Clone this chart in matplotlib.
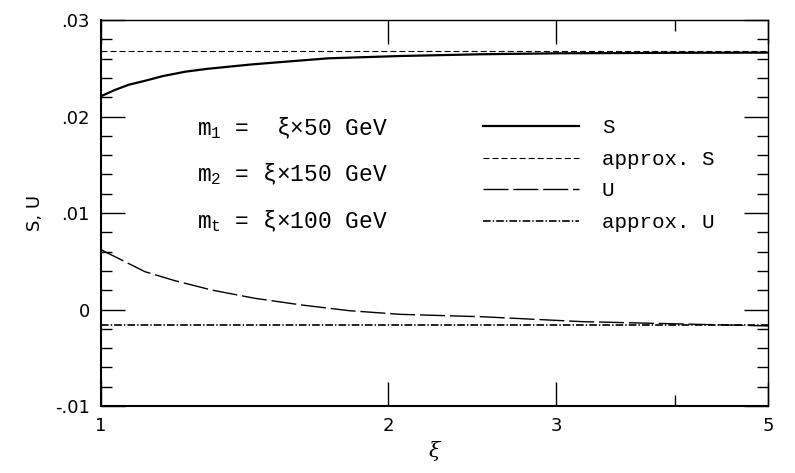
import numpy as np
import matplotlib
matplotlib.use("Agg")
import matplotlib.pyplot as plt
from matplotlib.ticker import FixedLocator, NullFormatter, MultipleLocator, FuncFormatter


# Werte
xi_S = [1.0, 1.034, 1.07, 1.112, 1.16, 1.225, 1.29, 1.36, 1.44, 1.534, 1.73, 2.06, 2.5, 3.0, 4.0, 5.0]
S = [0.0221, 0.02275, 0.0233, 0.0237, 0.02418, 0.02464, 0.02493, 0.02516, 0.0254, 0.02562, 0.02603,
     0.02627, 0.02645, 0.02655, 0.0266, 0.02662]

xi_U = [1.0, 1.051, 1.112, 1.195, 1.306, 1.45, 1.623, 1.82, 2.06, 2.51, 3.2, 4.07, 5.0]
U = [0.0062, 0.00513, 0.00392, 0.00299, 0.00202, 0.00116, 0.00047, -0.00012, -0.0005, -0.00075,
     -0.00126, -0.0015, -0.0017]

xi_approx = [1.0, 5.0]
S_approx = [0.0268, 0.0268]
U_approx = [-0.00165, -0.00165]

massen = [r"m$_\mathrm{1}$ =  ξ×50 GeV",
          r"m$_\mathrm{2}$ = ξ×150 GeV",
          r"m$_\mathrm{t}$ = ξ×100 GeV"]

plt.rcParams["lines.scale_dashes"] = False
plt.rcParams["mathtext.fontset"] = "custom"
plt.rcParams["mathtext.rm"] = "Liberation Mono"
plt.rcParams["mathtext.it"] = "Liberation Mono:italic"

fig = plt.figure(figsize=(7.95, 4.73), dpi=100)
ax = fig.add_axes([0.127, 0.1416, 0.839, 0.8161])

ax.plot(xi_S, S, color="black", linewidth=1.6, label="S")
ax.plot(xi_approx, S_approx, color="black", linewidth=0.8, dashes=(4.3, 2.2), label="approx. S")
ax.plot(xi_U, U, color="black", linewidth=1.0, dashes=(18, 3.5), label="U")
ax.plot(xi_approx, U_approx, color="black", linewidth=1.2, dashes=(5.5, 1.5, 1, 1.5), label="approx. U")

ax.set_xscale("log")
ax.set_xlim(1, 5)
ax.set_ylim(-0.01, 0.03)

ax.xaxis.set_major_locator(FixedLocator([1, 2, 3, 5]))
ax.xaxis.set_minor_locator(FixedLocator([4]))
ax.xaxis.set_major_formatter(FuncFormatter(lambda v, p: "%d" % v))
ax.xaxis.set_minor_formatter(NullFormatter())

ax.yaxis.set_major_locator(MultipleLocator(0.01))
ax.yaxis.set_minor_locator(MultipleLocator(0.002))


def ylabelfmt(v, p):
    if abs(v) < 1e-9:
        return "0"
    s = "%.2f" % v
    return s.replace("0.", ".")


ax.yaxis.set_major_formatter(FuncFormatter(ylabelfmt))

ax.tick_params(which="both", direction="in", top=True, right=True, color="black")
ax.tick_params(which="major", length=17, width=1.0, labelsize=13, pad=8)
ax.tick_params(which="minor", length=8, width=1.0)

for seite in ["left", "bottom"]:
    ax.spines[seite].set_linewidth(1.5)
for seite in ["right", "top"]:
    ax.spines[seite].set_linewidth(1.0)

ax.set_xlabel("ξ", fontsize=15, family="DejaVu Serif", style="italic", labelpad=4)
ax.set_ylabel("S, U", fontsize=13, labelpad=8)

for i, t in enumerate(massen):
    ax.text(1.262, 0.0188 - i * 0.0048, t, fontsize=16.5, family="Liberation Mono",
            va="center", ha="left")

ax.legend(loc="upper left", bbox_to_anchor=(0.573, 0.745), frameon=False,
          prop={"family": "Liberation Mono", "size": 15}, handlelength=4.6,
          handletextpad=1.1, labelspacing=0.6, borderpad=0, borderaxespad=0)

plt.savefig("out.png", dpi=100)
